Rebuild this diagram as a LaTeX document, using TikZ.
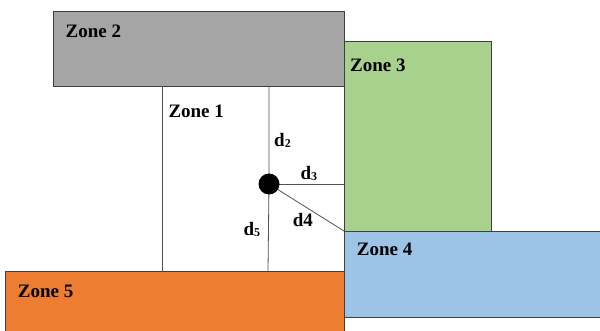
\documentclass[tikz,border=0pt]{standalone}
\usepackage{fontspec}
\setmainfont{Liberation Serif}
\newcommand\dsub[1]{d\raisebox{-1.2pt}{\fontsize{12}{12}\selectfont #1}}
\definecolor{zgray}{HTML}{A5A5A5}
\definecolor{zgreen}{HTML}{A9D18E}
\definecolor{zblue}{HTML}{9DC3E6}
\definecolor{zorange}{HTML}{ED7D31}
\definecolor{edge}{HTML}{3F3F3F}
\begin{document}
\begin{tikzpicture}[x=1pt,y=-1pt,
  zone/.style={draw=edge, line width=0.9pt, inner sep=0pt, outer sep=0pt, anchor=north west},
  label/.style={anchor=base west, inner sep=0pt, font=\fontsize{19}{19}\selectfont\bfseries},
  wall/.style={draw=edge!90, line width=0.8pt}]
  \useasboundingbox (0,0) rectangle (600,331);

  % zone rectangles
  \node[zone, fill=zgray,   minimum width=291pt, minimum height=75pt]  (z2) at (53,11)  {};
  \node[zone, fill=zgreen,  minimum width=147pt, minimum height=190pt] (z3) at (344,41) {};
  \node[zone, fill=zorange, minimum width=339pt, minimum height=70pt]  (z5) at (5,271)  {};
  \node[zone, fill=zblue,   minimum width=262pt, minimum height=86pt]  (z4) at (344,231) {};

  % zone 1 partition and the measuring point
  \coordinate (a1) at (162,86);
  \coordinate (b1) at (162,271);
  \coordinate (top) at (269,86);
  \coordinate (bot) at (268,271);
  \coordinate (p) at (269,184);
  \coordinate (e3) at (344,184);
  \draw[wall] (a1) -- (b1);
  \draw[wall] (top) -- (p) -- (bot);
  \draw[wall] (p) -- (e3);
  \draw[wall] (p) -- (z4.north west);
  \fill (p) circle (10.5);

  % labels
  \node[label] (l2) at (65.5,37.3)  {Zone 2};
  \node[label] (l1) at (168.3,117.3) {Zone 1};
  \node[label] (l3) at (350,71.7)   {Zone 3};
  \node[label] (l4) at (356.7,256)  {Zone 4};
  \node[label] (l5) at (17.7,297.3) {Zone 5};

  \node[label] (d2) at (274,146.7)   {\dsub{2}};
  \node[label] (d3) at (300.3,179.3) {\dsub{3}};
  \node[label] (d4) at (292.7,226.7) {d4};
  \node[label] (d5) at (243.3,235.3) {\dsub{5}};
\end{tikzpicture}
\end{document}
